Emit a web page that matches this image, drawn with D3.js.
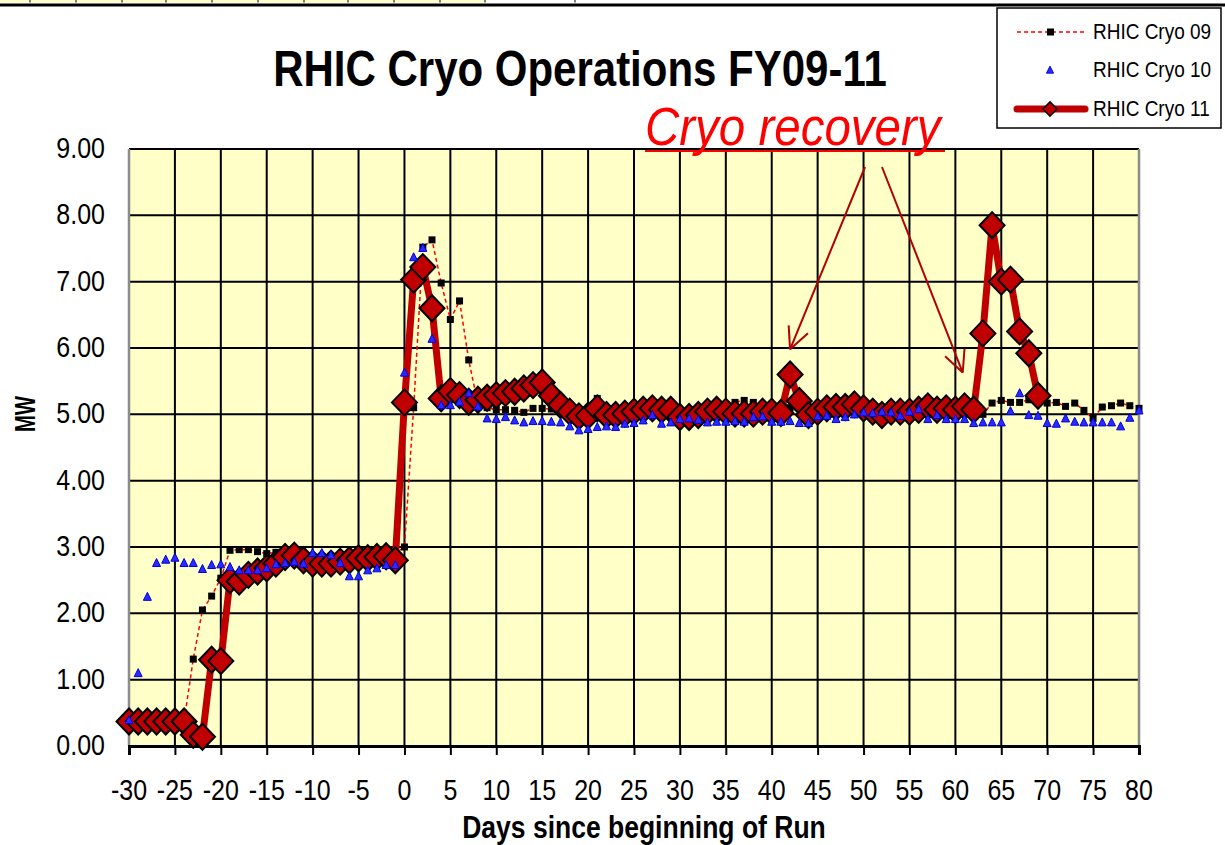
<!DOCTYPE html>
<html>
<head>
<meta charset="utf-8">
<script src="https://cdn.jsdelivr.net/npm/d3@7"></script>
<style>
  body { margin: 0; background: #fff; }
  text { font-family: "Liberation Sans", Arial, sans-serif; }
</style>
</head>
<body>
<div id="chart"></div>
<script>
// days since beginning of run
var days = d3.range(-30, 81);

var fy09 = [0.38, 0.38, 0.38, 0.38, 0.38, 0.38, 0.38,
    1.31, 2.05, 2.26, 2.53, 2.95, 2.96, 2.96, 2.93, 2.90, 2.92,
    2.88, 2.87, 2.88, 2.86, 2.85, 2.86, 2.85, 2.84, 2.85, 2.86, 2.87, 2.88, 2.90,
    3.00, 5.10, 7.52, 7.63, 6.98, 6.43, 6.71, 5.82, 5.15, 5.10,
    5.07, 5.07, 5.06, 5.03, 5.09, 5.09, 5.08, 5.05, 5.05, 5.00,
    4.98, 5.24, 5.05, 5.03, 5.06, 5.08, 5.07, 5.10, 5.06, 5.04,
    5.02, 5.05, 5.08, 5.10, 5.12, 5.15, 5.18, 5.21, 5.18, 5.12,
    5.08, 5.05, 5.10, 5.12, 5.08, 5.06, 5.09, 5.12, 5.10, 5.14,
    5.11, 5.08, 5.10, 5.12, 5.09, 5.07, 5.10, 5.12, 5.08, 5.06,
    5.10, 5.08, 5.05, 5.00, 5.17, 5.21, 5.18, 5.18, 5.22, 5.20,
    5.17, 5.18, 5.12, 5.17, 5.06, 4.94, 5.11, 5.13, 5.17, 5.13, 5.09];

var fy10 = [0.39, 1.10, 2.25, 2.76, 2.81, 2.84, 2.76, 2.76, 2.67, 2.73,
    2.74, 2.70, 2.65, 2.65, 2.65, 2.68, 2.74, 2.76, 2.78, 2.75,
    2.91, 2.91, 2.88, 2.76, 2.56, 2.56, 2.65, 2.68, 2.73, 2.73,
    5.63, 7.37, 7.51, 6.14, 5.14, 5.14, 5.19, 5.32, 5.12, 4.94,
    4.93, 4.96, 4.91, 4.88, 4.90, 4.90, 4.89, 4.88, 4.82, 4.76,
    4.78, 4.81, 4.82, 4.81, 4.86, 4.87, 4.91, 4.99, 4.86, 4.88,
    4.93, 4.94, 4.92, 4.88, 4.89, 4.89, 4.90, 4.89, 4.96, 4.97,
    4.89, 4.89, 4.90, 4.87, 4.87, 4.97, 4.98, 4.93, 4.96, 5.00,
    5.03, 5.02, 5.04, 5.03, 4.98, 5.04, 5.08, 4.93, 4.99, 4.93,
    4.93, 4.93, 4.87, 4.88, 4.88, 4.88, 5.05, 5.32, 4.99, 4.98,
    4.87, 4.86, 4.94, 4.89, 4.88, 4.88, 4.88, 4.88, 4.82, 4.95, 5.06];

var fy11 = [0.37, 0.37, 0.37, 0.37, 0.37, 0.37, 0.37, 0.17, 0.14, 1.30,
    1.28, 2.50, 2.48, 2.58, 2.63, 2.68, 2.75, 2.85, 2.87, 2.80,
    2.75, 2.75, 2.75, 2.78, 2.80, 2.83, 2.83, 2.85, 2.86, 2.80,
    5.18, 7.03, 7.22, 6.60, 5.24, 5.35, 5.29, 5.19, 5.22, 5.25,
    5.29, 5.32, 5.34, 5.39, 5.44, 5.48, 5.28, 5.14, 5.04, 4.97,
    4.98, 5.09, 4.99, 4.99, 5.01, 5.04, 5.07, 5.09, 5.07, 5.07,
    4.96, 4.96, 4.99, 5.04, 5.07, 5.04, 5.01, 5.01, 5.01, 5.04,
    5.04, 5.02, 5.60, 5.20, 4.99, 5.04, 5.09, 5.11, 5.11, 5.15,
    5.09, 5.04, 4.99, 5.04, 5.04, 5.04, 5.07, 5.12, 5.07, 5.09,
    5.07, 5.12, 5.07, 6.22, 7.85, 7.00, 7.03, 6.25, 5.92, 5.28];

var xTicks = d3.range(-30, 81, 5);
var yTicks = d3.range(0, 10, 1);
var seriesNames = ["RHIC Cryo 09", "RHIC Cryo 10", "RHIC Cryo 11"];
var noteText = "Cryo recovery";
var noteTargets = [{"x": 42, "y": 5.98}, {"x": 60.8, "y": 5.63}];

var width = 1225, height = 845;
var red = "#c00000";
var sy = 1.17; // the reference text is a bit tall

var svg = d3.select("#chart").append("svg")
    .attr("width", width).attr("height", height);

var xl = d3.scaleLinear().domain([-30, 80]).range([129, 1139]);
var yl = d3.scaleLinear().domain([0, 9]).range([746, 149]);

function tallText(g, x, y, str, size, opts) {
    opts = opts || {};
    return g.append("text")
        .attr("transform", "translate(" + x + "," + y + ") scale(1," + (opts.sy || sy) + ")")
        .attr("font-size", size + "px")
        .attr("font-weight", opts.bold ? "bold" : null)
        .attr("font-style", opts.italic ? "italic" : null)
        .attr("text-anchor", opts.anchor || "start")
        .attr("fill", opts.fill || "#000")
        .text(str);
}

// slide leftovers at the very top
svg.append("rect").attr("x", 0).attr("y", 0).attr("width", 485).attr("height", 2.5).attr("fill", "#ffffc8");
[30, 76, 122, 166, 212, 258, 304, 348, 394, 440, 485, 575].forEach(function(tx) {
    svg.append("line").attr("x1", tx).attr("x2", tx).attr("y1", 0).attr("y2", 2.5)
        .attr("stroke", "#555").attr("stroke-width", 1.5);
});
svg.append("line").attr("x1", 0).attr("x2", width).attr("y1", 5).attr("y2", 5)
    .attr("stroke", "#000").attr("stroke-width", 3);

// plot area
svg.append("rect")
    .attr("x", xl(-30)).attr("y", yl(9))
    .attr("width", xl(80) - xl(-30)).attr("height", yl(0) - yl(9))
    .attr("fill", "#ffffc8");

svg.selectAll(".hgrid").data(yTicks.filter(function(d) { return d > 0; }))
    .enter().append("line").attr("class", "hgrid")
    .attr("x1", xl(-30)).attr("x2", xl(80))
    .attr("y1", function(d) { return yl(d); }).attr("y2", function(d) { return yl(d); })
    .attr("stroke", "#000").attr("stroke-width", 2);

svg.selectAll(".vgrid").data(xTicks.filter(function(d) { return d > -30 && d < 80; }))
    .enter().append("line").attr("class", "vgrid")
    .attr("x1", function(d) { return xl(d); }).attr("x2", function(d) { return xl(d); })
    .attr("y1", yl(9)).attr("y2", yl(0))
    .attr("stroke", "#000").attr("stroke-width", 2);

// gray side borders
[-30, 80].forEach(function(d) {
    svg.append("line").attr("x1", xl(d)).attr("x2", xl(d)).attr("y1", yl(9)).attr("y2", yl(0))
        .attr("stroke", "#8c8c8c").attr("stroke-width", 2.5);
});

// x axis
var xAxis = d3.axisBottom(xl).tickValues(xTicks).tickSize(9).tickFormat("");
var gx = svg.append("g").attr("transform", "translate(0," + yl(0) + ")").call(xAxis);
gx.select(".domain").attr("stroke", "#000").attr("stroke-width", 3);
gx.selectAll(".tick line").attr("stroke", "#000").attr("stroke-width", 2);
xTicks.forEach(function(d) {
    tallText(svg, xl(d), 800, String(d), 25, {anchor: "middle"});
});

// y axis labels
yTicks.forEach(function(d) {
    tallText(svg, 105, yl(d) + 9, d3.format(".2f")(d), 25, {anchor: "end"});
});

// titles
tallText(svg, 580, 86, "RHIC Cryo Operations FY09-11", 42, {bold: true, anchor: "middle"});
tallText(svg, 644, 838, "Days since beginning of Run", 26.5, {bold: true, anchor: "middle"});
svg.append("text")
    .attr("transform", "translate(35,414) rotate(-90) scale(0.85,1.25)")
    .attr("font-size", "24px").attr("font-weight", "bold").attr("text-anchor", "middle")
    .text("MW");

// series FY09: dashed red line with black squares
var linefun = d3.line()
    .x(function(d) { return xl(d.x); })
    .y(function(d) { return yl(d.y); });

var data09 = fy09.map(function(v, i) { return {"x": days[i], "y": v}; });
var data10 = fy10.map(function(v, i) { return {"x": days[i], "y": v}; });
var data11 = fy11.map(function(v, i) { return {"x": days[i], "y": v}; });

svg.append("path").attr("d", linefun(data09))
    .attr("fill", "none").attr("stroke", "#ff0000").attr("stroke-width", 1.5)
    .attr("stroke-dasharray", "4,3");
svg.selectAll(".sq09").data(data09).enter().append("rect").attr("class", "sq09")
    .attr("x", function(d) { return xl(d.x) - 3.5; })
    .attr("y", function(d) { return yl(d.y) - 3.5; })
    .attr("width", 7).attr("height", 7).attr("fill", "#000");

// series FY11: thick dark red line with diamonds
function diamond(cx, cy, r) {
    return "M" + cx + "," + (cy - r * 1.04) + "L" + (cx + r) + "," + cy +
        "L" + cx + "," + (cy + r * 1.04) + "L" + (cx - r) + "," + cy + "Z";
}
svg.append("path").attr("d", linefun(data11))
    .attr("fill", "none").attr("stroke", red).attr("stroke-width", 7)
    .attr("stroke-linejoin", "round");
svg.selectAll(".dm11").data(data11).enter().append("path").attr("class", "dm11")
    .attr("d", function(d) { return diamond(xl(d.x), yl(d.y), 12.5); })
    .attr("fill", red).attr("stroke", "#000").attr("stroke-width", 2);

// series FY10: blue triangles, no line
function triangle(cx, cy, s) {
    return "M" + cx + "," + (cy - s * 0.55) + "L" + (cx + s / 2) + "," + (cy + s * 0.45) +
        "L" + (cx - s / 2) + "," + (cy + s * 0.45) + "Z";
}
svg.selectAll(".tr10").data(data10).enter().append("path").attr("class", "tr10")
    .attr("d", function(d) { return triangle(xl(d.x), yl(d.y), 8); })
    .attr("fill", "#2a2aff").attr("stroke", "#0000e0").attr("stroke-width", 1);

// annotation
tallText(svg, 645, 145, noteText, 47.5, {italic: true, anchor: "start", fill: "#ff0000", sy: 1.12});
svg.append("line").attr("x1", 645).attr("x2", 945).attr("y1", 151).attr("y2", 151)
    .attr("stroke", "#ff0000").attr("stroke-width", 2);

var starts = [{"x": 865, "y": 167}, {"x": 882, "y": 167}];
noteTargets.forEach(function(t, i) {
    var x2 = xl(t.x), y2 = yl(t.y), x1 = starts[i].x, y1 = starts[i].y;
    svg.append("line").attr("x1", x1).attr("y1", y1).attr("x2", x2).attr("y2", y2)
        .attr("stroke", "#b40000").attr("stroke-width", 2);
    var a = Math.atan2(y1 - y2, x1 - x2);
    [-0.45, 0.45].forEach(function(da) {
        svg.append("line").attr("x1", x2).attr("y1", y2)
            .attr("x2", x2 + 24 * Math.cos(a + da)).attr("y2", y2 + 24 * Math.sin(a + da))
            .attr("stroke", "#b40000").attr("stroke-width", 2);
    });
});

// legend
var lg = svg.append("g");
lg.append("rect").attr("x", 997).attr("y", 8).attr("width", 224).attr("height", 120)
    .attr("fill", "#fff").attr("stroke", "#000").attr("stroke-width", 1.5);
var rows = [32, 70, 109];
lg.append("line").attr("x1", 1017).attr("x2", 1085).attr("y1", rows[0]).attr("y2", rows[0])
    .attr("stroke", "#ff0000").attr("stroke-width", 1.5).attr("stroke-dasharray", "4,3");
lg.append("rect").attr("x", 1047).attr("y", rows[0] - 3.5).attr("width", 7).attr("height", 7).attr("fill", "#000");
lg.append("path").attr("d", triangle(1050, rows[1], 7)).attr("fill", "#2a2aff").attr("stroke", "#0000e0");
lg.append("line").attr("x1", 1017).attr("x2", 1085).attr("y1", rows[2]).attr("y2", rows[2])
    .attr("stroke", red).attr("stroke-width", 7).attr("stroke-linecap", "round");
lg.append("path").attr("d", diamond(1050, rows[2], 7)).attr("fill", red).attr("stroke", "#000").attr("stroke-width", 1.5);
seriesNames.forEach(function(n, i) {
    tallText(lg, 1093, rows[i] + 7, n, 19, {});
});
</script>
</body>
</html>
